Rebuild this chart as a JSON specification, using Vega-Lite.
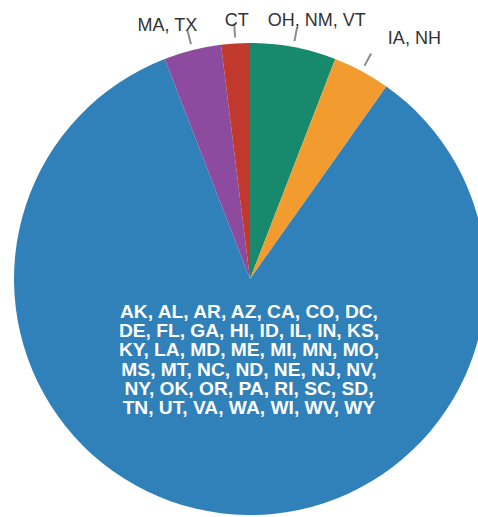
{
  "$schema": "https://vega.github.io/schema/vega-lite/v6.json",
  "width": 456,
  "height": 476,
  "autosize": "none",
  "padding": {"left": 22, "top": 41, "right": 0, "bottom": 0},
  "background": "white",
  "config": {"view": {"stroke": null}},
  "data": {
    "values": [
      {"order": 1, "group": "OH, NM, VT", "count": 3},
      {"order": 2, "group": "IA, NH", "count": 2},
      {"order": 3, "group": "AK, AL, AR, AZ, CA, CO, DC,\nDE, FL, GA, HI, ID, IL, IN, KS,\nKY, LA, MD, ME, MI, MN, MO,\nMS, MT, NC, ND, NE, NJ, NV,\nNY, OK, OR, PA, RI, SC, SD,\nTN, UT, VA, WA, WI, WV, WY", "count": 43},
      {"order": 4, "group": "MA, TX", "count": 2},
      {"order": 5, "group": "CT", "count": 1}
    ]
  },
  "encoding": {
    "theta": {"field": "count", "type": "quantitative", "stack": true},
    "order": {"field": "order", "type": "quantitative"}
  },
  "layer": [
    {
      "mark": {"type": "arc", "outerRadius": 236, "innerRadius": 0, "stroke": null},
      "encoding": {
        "color": {
          "field": "group",
          "type": "nominal",
          "scale": {
            "domain": ["OH, NM, VT", "IA, NH", "AK, AL, AR, AZ, CA, CO, DC,\nDE, FL, GA, HI, ID, IL, IN, KS,\nKY, LA, MD, ME, MI, MN, MO,\nMS, MT, NC, ND, NE, NJ, NV,\nNY, OK, OR, PA, RI, SC, SD,\nTN, UT, VA, WA, WI, WV, WY", "MA, TX", "CT"],
            "range": ["#178a6e", "#f29b2e", "#3081ba", "#8d4b9f", "#c1392d"]
          },
          "legend": null
        }
      }
    },
    {
      "mark": {"type": "arc", "outerRadius": 256, "innerRadius": 242, "padAngle": 0.6, "fillOpacity": 0, "stroke": "#8c8c8c", "strokeWidth": 2},
      "encoding": {
        "strokeOpacity": {"condition": {"test": "datum.count > 10", "value": 0}, "value": 1}
      }
    },
    {
      "mark": {
        "type": "text",
        "radius": 265,
        "font": "Liberation Sans",
        "fontSize": 18,
        "color": "#333333",
        "align": "center",
        "baseline": "middle",
        "dx": {"expr": "datum.group == 'MA, TX' ? -18 : datum.group == 'CT' ? 3 : datum.group == 'OH, NM, VT' ? 18 : 39"},
        "dy": {"expr": "datum.group == 'MA, TX' ? 4 : datum.group == 'CT' ? 6 : datum.group == 'OH, NM, VT' ? 2 : -7"}
      },
      "encoding": {
        "text": {"condition": {"test": "datum.count > 10", "value": ""}, "field": "group"}
      }
    },
    {
      "mark": {
        "type": "text",
        "radius": 33,
        "dx": 3,
        "font": "Liberation Sans",
        "fontSize": 19.2,
        "fontWeight": "bold",
        "lineBreak": "\n",
        "lineHeight": 19.3,
        "color": "white",
        "align": "center",
        "baseline": "middle"
      },
      "encoding": {
        "text": {"condition": {"test": "datum.count < 10", "value": ""}, "field": "group"}
      }
    }
  ]
}
